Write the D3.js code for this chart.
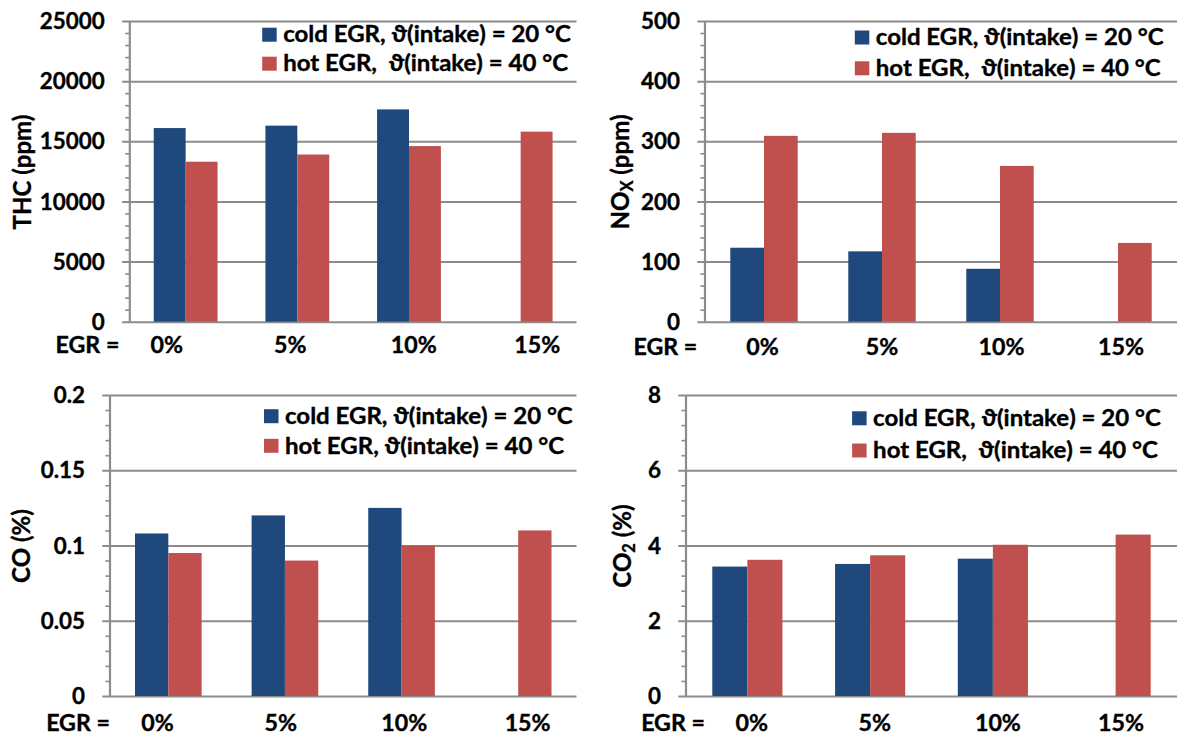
<!DOCTYPE html>
<html><head><meta charset="utf-8">
<script src="https://cdn.jsdelivr.net/npm/d3@7"></script>
<style>
body{margin:0;background:#fff;}
svg text{font-family:Lato,"Open Sans",sans-serif;font-weight:bold;fill:#000;font-size:22px;stroke:#000;stroke-width:0.35px;}
</style></head><body>
<svg id="chart" width="1183" height="738"></svg>
<script>
// ---------- data ----------
const categories = ["0%", "5%", "10%", "15%"];
const xPrefix = "EGR =";
const coldName = "cold EGR, ϑ(intake) = 20 °C";
const hotName = "hot EGR,  ϑ(intake) = 40 °C";
const hotNameCO = "hot EGR, ϑ(intake) = 40 °C";

const thcCold = [16100, 16300, 17650, null];
const thcHot  = [13300, 13900, 14600, 15800];
const noxCold = [123, 117, 88, null];
const noxHot  = [309, 314, 259, 131];
const coCold  = [0.108, 0.120, 0.125, null];
const coHot   = [0.095, 0.090, 0.100, 0.110];
const co2Cold = [3.44, 3.51, 3.65, null];
const co2Hot  = [3.62, 3.74, 4.02, 4.29];

const thcTicks = [0, 5000, 10000, 15000, 20000, 25000];
const noxTicks = [0, 100, 200, 300, 400, 500];
const coTicks  = [0, 0.05, 0.1, 0.15, 0.2];
const co2Ticks = [0, 2, 4, 6, 8];
const thcMinor = 1000, noxMinor = 20, coMinor = 0.01, co2Minor = 0.4;

// ---------- layout ----------
const BLUE = "#1F497D", RED = "#C0504D", GRID = "#8C8C8C";
const panels = [
  {cold: thcCold, hot: thcHot, ticks: thcTicks, minor: thcMinor, hotLabel: hotName,
   yLabel: [["THC (ppm)", false]],
   box: {x0: 129.8, x1: 576.5, y0: 21, y1: 321.7}, labelRange: [166.8, 537.2], egrEnd: 119.4, labelBase: 353.3,
   legendX: 262.2, legendY: [34.7, 63.7], yLabelX: 23, yLabelY: 172},
  {cold: noxCold, hot: noxHot, ticks: noxTicks, minor: noxMinor, hotLabel: hotName,
   yLabel: [["NO", false], ["X", true], [" (ppm)", false]],
   box: {x0: 705, x1: 1177, y0: 21, y1: 321.7}, labelRange: [762.5, 1121], egrEnd: 697.3, labelBase: 355,
   legendX: 854.8, legendY: [37.5, 68.3], yLabelX: 621, yLabelY: 172},
  {cold: coCold, hot: coHot, ticks: coTicks, minor: coMinor, hotLabel: hotNameCO,
   yLabel: [["CO (%)", false]],
   box: {x0: 110, x1: 576.5, y0: 395, y1: 696}, labelRange: [157.5, 527.6], egrEnd: 110, labelBase: 730.5,
   legendX: 264, legendY: [416.2, 445.8], yLabelX: 22, yLabelY: 546},
  {cold: co2Cold, hot: co2Hot, ticks: co2Ticks, minor: co2Minor, hotLabel: hotName,
   yLabel: [["CO", false], ["2", true], [" (%)", false]],
   box: {x0: 686, x1: 1177, y0: 395, y1: 696}, labelRange: [751.7, 1121], egrEnd: 705, labelBase: 730.5,
   legendX: 852.1, legendY: [418.3, 450.5], yLabelX: 623, yLabelY: 546}
];
// target widths measured on the reference (px) used to fit the font's horizontal scale
const FIT_TICK = 65, FIT_LEGEND = 288, FIT_YLABEL = 115;

const svg = d3.select("#chart");
const TICK = 7.7, MINOR = 4.6, LABEL_GAP = 25;

panels.forEach(p => {
  const {x0, x1, y0, y1} = p.box;
  const g = svg.append("g");
  const yMax = d3.max(p.ticks);
  const y = d3.scaleLinear().domain([0, yMax]).range([y1, y0]);
  const x = d3.scaleBand().domain(categories).range([x0, x1]).paddingInner(3 / 7).paddingOuter(3 / 14);
  const xs = d3.scaleBand().domain(["cold", "hot"]).range([0, x.bandwidth()]);
  const xl = d3.scalePoint().domain(categories).range(p.labelRange);

  const minors = d3.range(0, yMax + p.minor / 2, p.minor)
    .filter(v => !p.ticks.some(t => Math.abs(t - v) < p.minor / 10));
  const mAx = g.append("g").attr("transform", `translate(${x0},0)`)
    .call(d3.axisLeft(y).tickValues(minors).tickSize(MINOR).tickFormat(""));
  mAx.select(".domain").remove();
  mAx.selectAll(".tick line").attr("stroke", GRID).attr("stroke-width", 1.6);

  const ax = g.append("g").attr("transform", `translate(${x0},0)`)
    .call(d3.axisLeft(y).tickValues(p.ticks).tickSize(TICK).tickPadding(LABEL_GAP - TICK)
      .tickFormat(d3.format("~g")));
  ax.attr("font-family", null).attr("font-size", null);
  ax.select(".domain").remove();
  ax.selectAll(".tick line").attr("x1", -TICK).attr("x2", x1 - x0)
    .attr("stroke", GRID).attr("stroke-width", 2);
  ax.selectAll(".tick text").attr("dy", "0.35em").classed("tl", true);

  const rows = categories.map((c, i) => ({cat: c, cold: p.cold[i], hot: p.hot[i]}));
  const grp = g.append("g").selectAll("g").data(rows).join("g")
    .attr("transform", d => `translate(${x(d.cat)},0)`);
  grp.selectAll("rect")
    .data(d => [{k: "cold", v: d.cold}, {k: "hot", v: d.hot}].filter(e => e.v != null))
    .join("rect")
    .attr("x", e => xs(e.k)).attr("width", xs.bandwidth())
    .attr("y", e => y(e.v)).attr("height", e => y(0) - y(e.v))
    .attr("fill", e => e.k === "cold" ? BLUE : RED);

  g.append("line").attr("x1", x0).attr("x2", x0).attr("y1", y0).attr("y2", y1)
    .attr("stroke", GRID).attr("stroke-width", 2.2);

  g.append("text").attr("class", "xl").attr("x", p.egrEnd).attr("y", p.labelBase)
    .attr("text-anchor", "end").text(xPrefix);
  g.selectAll("text.cat").data(categories).join("text").attr("class", "cat xl")
    .attr("x", d => xl(d)).attr("y", p.labelBase).attr("text-anchor", "middle").text(d => d);

  const yl = g.append("text").attr("class", "yl")
    .attr("transform", `translate(${p.yLabelX},${p.yLabelY}) rotate(-90)`)
    .attr("text-anchor", "middle").attr("dy", "0.35em");
  p.yLabel.forEach(([t, sub]) => {
    const ts = yl.append("tspan").text(t);
    if (sub) ts.attr("class", "sub").attr("baseline-shift", "-4px");
  });

  [{name: coldName, color: BLUE}, {name: p.hotLabel, color: RED}].forEach((l, i) => {
    const cy = p.legendY[i];
    g.append("rect").attr("x", p.legendX).attr("y", cy - 7).attr("width", 14.5).attr("height", 14).attr("fill", l.color);
    g.append("text").attr("class", "lg").attr("x", p.legendX + 21).attr("y", cy).attr("dy", "0.35em")
      .style("white-space", "pre").text(l.name);
  });
});

// fit horizontal text scale to the reference proportions
function stretch(sel, sx) {
  sel.each(function () {
    const t = d3.select(this);
    const x = +t.attr("x") || 0, y = +t.attr("y") || 0;
    t.attr("x", 0).attr("y", 0).attr("transform", `translate(${x},${y}) scale(${sx},1)`);
  });
}
const tickNode = svg.selectAll("text.tl").filter(function () { return this.textContent === "25000"; }).node();
const sxTick = Math.min(1.4, Math.max(0.8, FIT_TICK / tickNode.getComputedTextLength()));
const legNode = svg.select("text.lg").node();
const sxLeg = Math.min(1.4, Math.max(0.8, FIT_LEGEND / legNode.getComputedTextLength()));
stretch(svg.selectAll("text.tl"), sxTick);
stretch(svg.selectAll("text.xl"), (sxTick + sxLeg) / 2);
stretch(svg.selectAll("text.lg"), sxLeg);
const yNode = svg.select("text.yl").node();
const ySize = 22 * FIT_YLABEL / yNode.getComputedTextLength();
svg.selectAll("text.yl").style("font-size", ySize + "px");
svg.selectAll("tspan.sub").style("font-size", (ySize * 0.68) + "px");
</script>
</body></html>
